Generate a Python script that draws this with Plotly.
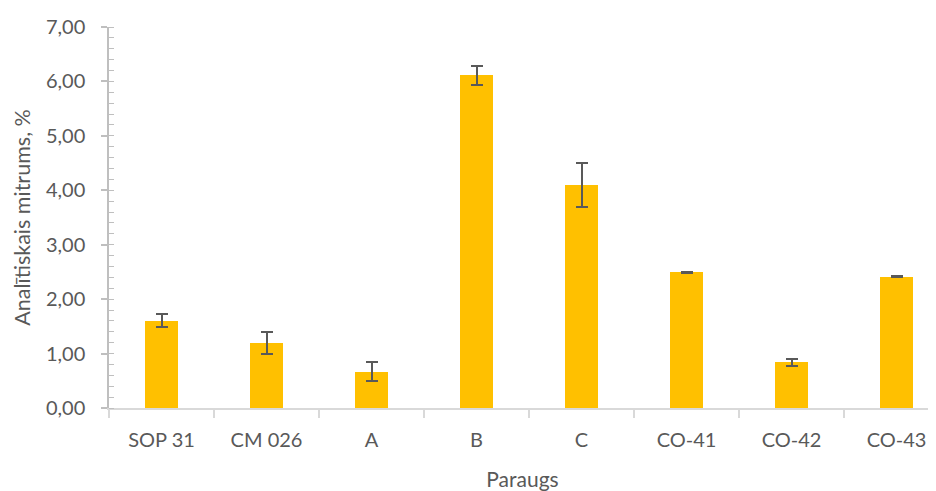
import plotly.graph_objects as go

categories = ["SOP 31", "CM 026", "A", "B", "C", "CO-41", "CO-42", "CO-43"]
values = [1.60, 1.19, 0.67, 6.11, 4.10, 2.49, 0.84, 2.41]
errors = [0.12, 0.20, 0.17, 0.18, 0.40, 0.01, 0.06, 0.01]

y_ticks = [0, 1, 2, 3, 4, 5, 6, 7]

FONT = "Lato"
GREY = "#595959"

fig = go.Figure()
fig.add_trace(go.Bar(
    x=categories,
    y=values,
    marker=dict(color="#FFC000", line=dict(width=0)),
    width=0.314,
    error_y=dict(type="data", array=errors, visible=True,
                 color=GREY, thickness=2, width=6),
))

# the page body adds an 8px offset, so the figure is sized to fit the window
fig.update_layout(
    width=928, height=483,
    margin=dict(l=101, r=0, t=19, b=83),
    paper_bgcolor="white", plot_bgcolor="white",
    separators=", ",
    showlegend=False,
    font=dict(family=FONT, color=GREY, size=20),
    xaxis=dict(
        type="category",
        range=[-0.5, 7.376],
        automargin=False,
        tickson="boundaries",
        ticks="outside", ticklen=8, tickcolor="#d9d9d9", tickwidth=1.5,
        showline=True, linecolor="#d9d9d9", linewidth=1.5,
        showgrid=False, zeroline=False,
        ticklabelstandoff=13,
        tickfont=dict(family=FONT, size=20, color=GREY),
        title=dict(text="Paraugs", font=dict(family=FONT, size=21, color=GREY), standoff=23),
    ),
    yaxis=dict(
        range=[0, 7],
        automargin=False,
        tickvals=y_ticks,
        tickformat=".2f",
        ticks="outside", ticklen=6, tickcolor="#bfbfbf", tickwidth=1.5,
        minor=dict(dtick=0.2, ticks="inside", ticklen=5, tickcolor="#bfbfbf", tickwidth=1),
        showline=True, linecolor="#bfbfbf", linewidth=1.5,
        showgrid=False, zeroline=False,
        ticklabelstandoff=12,
        tickfont=dict(family=FONT, size=20, color=GREY),
        title=dict(text="Analītiskais mitrums, %", font=dict(family=FONT, size=21.5, color=GREY), standoff=9),
    ),
    bargap=0,
)

fig.write_html("out.html")
